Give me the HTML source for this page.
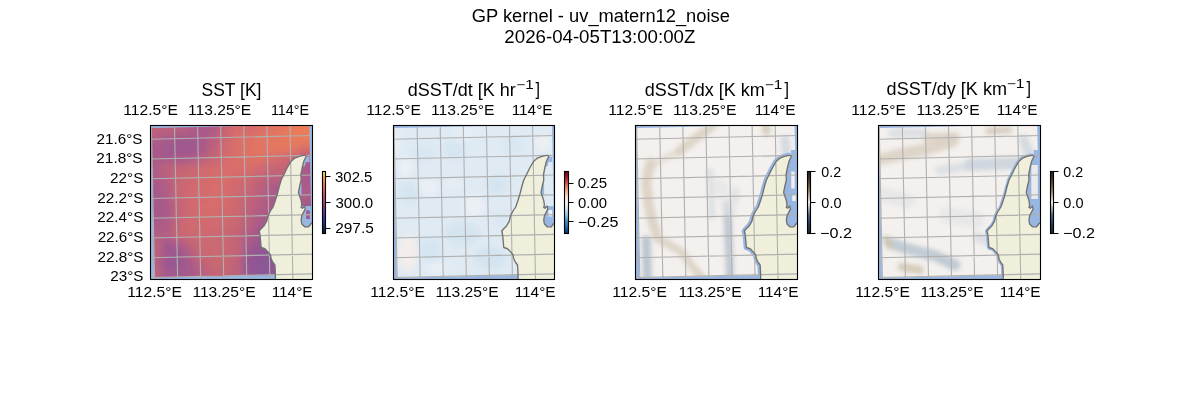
<!DOCTYPE html>
<html><head><meta charset="utf-8"><title>GP kernel - uv_matern12_noise</title>
<style>
html,body{margin:0;padding:0;background:#fff;width:1200px;height:400px;overflow:hidden}
svg{display:block;will-change:transform}
text{font-family:"Liberation Sans",sans-serif;fill:#000}
</style></head><body>
<svg width="1200" height="400" viewBox="0 0 1200 400">
<rect width="1200" height="400" fill="#fff"/>
<defs>
<filter id="blur35" x="-20%" y="-20%" width="140%" height="140%"><feGaussianBlur stdDeviation="3.5"/></filter>
<filter id="blur3" x="-50%" y="-50%" width="200%" height="200%"><feGaussianBlur stdDeviation="3"/></filter>
<filter id="blur2" x="-50%" y="-50%" width="200%" height="200%"><feGaussianBlur stdDeviation="2"/></filter>
</defs>
<clipPath id="clip0"><rect x="150.5" y="125.5" width="162" height="154"/></clipPath>
<clipPath id="data0"><polygon points="151,127.9 309.3,124.55 312.5,274.2 154.2,277.7"/></clipPath>
<g clip-path="url(#clip0)">
<rect x="150.5" y="125.5" width="162" height="154" fill="#97b6e1"/>
<g clip-path="url(#data0)"><g filter="url(#blur35)"><rect x="136" y="111" width="25.85" height="23.93" fill="#c0607a"/><rect x="161.55" y="111" width="11.85" height="23.93" fill="#bc5f7c"/><rect x="173.11" y="111" width="11.85" height="23.93" fill="#b85e80"/><rect x="184.66" y="111" width="11.85" height="23.93" fill="#b25c84"/><rect x="196.21" y="111" width="11.85" height="23.93" fill="#a8598a"/><rect x="207.76" y="111" width="11.85" height="23.93" fill="#b05b86"/><rect x="219.32" y="111" width="11.85" height="23.93" fill="#c8646f"/><rect x="230.87" y="111" width="11.85" height="23.93" fill="#d86c6a"/><rect x="242.42" y="111" width="11.85" height="23.93" fill="#d46a6c"/><rect x="253.98" y="111" width="11.85" height="23.93" fill="#da6e68"/><rect x="265.53" y="111" width="11.85" height="23.93" fill="#e07262"/><rect x="277.08" y="111" width="11.85" height="23.93" fill="#e47460"/><rect x="288.63" y="111" width="11.85" height="23.93" fill="#ea7a58"/><rect x="300.19" y="111" width="25.85" height="23.93" fill="#ec7c56"/><rect x="136" y="134.63" width="25.85" height="9.93" fill="#b05c84"/><rect x="161.55" y="134.63" width="11.85" height="9.93" fill="#a85a8a"/><rect x="173.11" y="134.63" width="11.85" height="9.93" fill="#a0588c"/><rect x="184.66" y="134.63" width="11.85" height="9.93" fill="#a0588c"/><rect x="196.21" y="134.63" width="11.85" height="9.93" fill="#a8598a"/><rect x="207.76" y="134.63" width="11.85" height="9.93" fill="#b85e80"/><rect x="219.32" y="134.63" width="11.85" height="9.93" fill="#cc6670"/><rect x="230.87" y="134.63" width="11.85" height="9.93" fill="#da6e68"/><rect x="242.42" y="134.63" width="11.85" height="9.93" fill="#de7064"/><rect x="253.98" y="134.63" width="11.85" height="9.93" fill="#e27462"/><rect x="265.53" y="134.63" width="11.85" height="9.93" fill="#e47660"/><rect x="277.08" y="134.63" width="11.85" height="9.93" fill="#e87858"/><rect x="288.63" y="134.63" width="11.85" height="9.93" fill="#ea7a58"/><rect x="300.19" y="134.63" width="25.85" height="9.93" fill="#ea7a58"/><rect x="136" y="144.25" width="25.85" height="9.93" fill="#a8598a"/><rect x="161.55" y="144.25" width="11.85" height="9.93" fill="#a0588c"/><rect x="173.11" y="144.25" width="11.85" height="9.93" fill="#9c578e"/><rect x="184.66" y="144.25" width="11.85" height="9.93" fill="#9e578c"/><rect x="196.21" y="144.25" width="11.85" height="9.93" fill="#a8598a"/><rect x="207.76" y="144.25" width="11.85" height="9.93" fill="#c06278"/><rect x="219.32" y="144.25" width="11.85" height="9.93" fill="#d06870"/><rect x="230.87" y="144.25" width="11.85" height="9.93" fill="#dc6e66"/><rect x="242.42" y="144.25" width="11.85" height="9.93" fill="#e07262"/><rect x="253.98" y="144.25" width="11.85" height="9.93" fill="#e27462"/><rect x="265.53" y="144.25" width="11.85" height="9.93" fill="#e47660"/><rect x="277.08" y="144.25" width="11.85" height="9.93" fill="#e67660"/><rect x="288.63" y="144.25" width="11.85" height="9.93" fill="#e47462"/><rect x="300.19" y="144.25" width="25.85" height="9.93" fill="#d86c6a"/><rect x="136" y="153.88" width="25.85" height="9.93" fill="#ac5a88"/><rect x="161.55" y="153.88" width="11.85" height="9.93" fill="#a8598a"/><rect x="173.11" y="153.88" width="11.85" height="9.93" fill="#a8598a"/><rect x="184.66" y="153.88" width="11.85" height="9.93" fill="#ac5a88"/><rect x="196.21" y="153.88" width="11.85" height="9.93" fill="#b85e80"/><rect x="207.76" y="153.88" width="11.85" height="9.93" fill="#c86672"/><rect x="219.32" y="153.88" width="11.85" height="9.93" fill="#d46a6c"/><rect x="230.87" y="153.88" width="11.85" height="9.93" fill="#da6e68"/><rect x="242.42" y="153.88" width="11.85" height="9.93" fill="#dc7066"/><rect x="253.98" y="153.88" width="11.85" height="9.93" fill="#e07262"/><rect x="265.53" y="153.88" width="11.85" height="9.93" fill="#d86c6a"/><rect x="277.08" y="153.88" width="11.85" height="9.93" fill="#d06870"/><rect x="288.63" y="153.88" width="11.85" height="9.93" fill="#c86672"/><rect x="300.19" y="153.88" width="25.85" height="9.93" fill="#b05c84"/><rect x="136" y="163.51" width="25.85" height="9.93" fill="#b05c86"/><rect x="161.55" y="163.51" width="11.85" height="9.93" fill="#c06278"/><rect x="173.11" y="163.51" width="11.85" height="9.93" fill="#c46476"/><rect x="184.66" y="163.51" width="11.85" height="9.93" fill="#c86672"/><rect x="196.21" y="163.51" width="11.85" height="9.93" fill="#d06a6e"/><rect x="207.76" y="163.51" width="11.85" height="9.93" fill="#d46a6c"/><rect x="219.32" y="163.51" width="11.85" height="9.93" fill="#d86c6a"/><rect x="230.87" y="163.51" width="11.85" height="9.93" fill="#d86c6a"/><rect x="242.42" y="163.51" width="11.85" height="9.93" fill="#da6e68"/><rect x="253.98" y="163.51" width="11.85" height="9.93" fill="#d06870"/><rect x="265.53" y="163.51" width="11.85" height="9.93" fill="#c86672"/><rect x="277.08" y="163.51" width="11.85" height="9.93" fill="#c46476"/><rect x="288.63" y="163.51" width="11.85" height="9.93" fill="#bc6079"/><rect x="300.19" y="163.51" width="25.85" height="9.93" fill="#a8598a"/><rect x="136" y="173.14" width="25.85" height="9.93" fill="#b05c86"/><rect x="161.55" y="173.14" width="11.85" height="9.93" fill="#b85e80"/><rect x="173.11" y="173.14" width="11.85" height="9.93" fill="#c86672"/><rect x="184.66" y="173.14" width="11.85" height="9.93" fill="#cc6870"/><rect x="196.21" y="173.14" width="11.85" height="9.93" fill="#d26a6c"/><rect x="207.76" y="173.14" width="11.85" height="9.93" fill="#d66c6a"/><rect x="219.32" y="173.14" width="11.85" height="9.93" fill="#d86c6a"/><rect x="230.87" y="173.14" width="11.85" height="9.93" fill="#d46a6c"/><rect x="242.42" y="173.14" width="11.85" height="9.93" fill="#d06870"/><rect x="253.98" y="173.14" width="11.85" height="9.93" fill="#c46476"/><rect x="265.53" y="173.14" width="11.85" height="9.93" fill="#bc6079"/><rect x="277.08" y="173.14" width="11.85" height="9.93" fill="#b85e80"/><rect x="288.63" y="173.14" width="11.85" height="9.93" fill="#b45d82"/><rect x="300.19" y="173.14" width="25.85" height="9.93" fill="#a8598a"/><rect x="136" y="182.76" width="25.85" height="9.93" fill="#a8598a"/><rect x="161.55" y="182.76" width="11.85" height="9.93" fill="#b45d82"/><rect x="173.11" y="182.76" width="11.85" height="9.93" fill="#c86672"/><rect x="184.66" y="182.76" width="11.85" height="9.93" fill="#d06870"/><rect x="196.21" y="182.76" width="11.85" height="9.93" fill="#d46a6c"/><rect x="207.76" y="182.76" width="11.85" height="9.93" fill="#d86c6a"/><rect x="219.32" y="182.76" width="11.85" height="9.93" fill="#d86c6a"/><rect x="230.87" y="182.76" width="11.85" height="9.93" fill="#d06870"/><rect x="242.42" y="182.76" width="11.85" height="9.93" fill="#c86672"/><rect x="253.98" y="182.76" width="11.85" height="9.93" fill="#bc6079"/><rect x="265.53" y="182.76" width="11.85" height="9.93" fill="#ac5a88"/><rect x="277.08" y="182.76" width="11.85" height="9.93" fill="#a8598a"/><rect x="288.63" y="182.76" width="11.85" height="9.93" fill="#ac5a88"/><rect x="300.19" y="182.76" width="25.85" height="9.93" fill="#ac5a88"/><rect x="136" y="192.39" width="25.85" height="9.93" fill="#a4588c"/><rect x="161.55" y="192.39" width="11.85" height="9.93" fill="#b05c84"/><rect x="173.11" y="192.39" width="11.85" height="9.93" fill="#c86672"/><rect x="184.66" y="192.39" width="11.85" height="9.93" fill="#d06870"/><rect x="196.21" y="192.39" width="11.85" height="9.93" fill="#d46a6c"/><rect x="207.76" y="192.39" width="11.85" height="9.93" fill="#d66c6a"/><rect x="219.32" y="192.39" width="11.85" height="9.93" fill="#d86c6a"/><rect x="230.87" y="192.39" width="11.85" height="9.93" fill="#cc6870"/><rect x="242.42" y="192.39" width="11.85" height="9.93" fill="#c46476"/><rect x="253.98" y="192.39" width="11.85" height="9.93" fill="#b85e80"/><rect x="265.53" y="192.39" width="11.85" height="9.93" fill="#ac5a88"/><rect x="277.08" y="192.39" width="11.85" height="9.93" fill="#a8598a"/><rect x="288.63" y="192.39" width="11.85" height="9.93" fill="#b05c84"/><rect x="300.19" y="192.39" width="25.85" height="9.93" fill="#b05c84"/><rect x="136" y="202.02" width="25.85" height="9.93" fill="#a4588c"/><rect x="161.55" y="202.02" width="11.85" height="9.93" fill="#ac5a88"/><rect x="173.11" y="202.02" width="11.85" height="9.93" fill="#c46476"/><rect x="184.66" y="202.02" width="11.85" height="9.93" fill="#d06870"/><rect x="196.21" y="202.02" width="11.85" height="9.93" fill="#d86c6a"/><rect x="207.76" y="202.02" width="11.85" height="9.93" fill="#d86c6a"/><rect x="219.32" y="202.02" width="11.85" height="9.93" fill="#d46a6c"/><rect x="230.87" y="202.02" width="11.85" height="9.93" fill="#cc6870"/><rect x="242.42" y="202.02" width="11.85" height="9.93" fill="#c06278"/><rect x="253.98" y="202.02" width="11.85" height="9.93" fill="#b45d82"/><rect x="265.53" y="202.02" width="11.85" height="9.93" fill="#ac5a88"/><rect x="277.08" y="202.02" width="11.85" height="9.93" fill="#a4588c"/><rect x="288.63" y="202.02" width="11.85" height="9.93" fill="#a0588c"/><rect x="300.19" y="202.02" width="25.85" height="9.93" fill="#a0588c"/><rect x="136" y="211.65" width="25.85" height="9.93" fill="#a8598a"/><rect x="161.55" y="211.65" width="11.85" height="9.93" fill="#ac5a88"/><rect x="173.11" y="211.65" width="11.85" height="9.93" fill="#c46476"/><rect x="184.66" y="211.65" width="11.85" height="9.93" fill="#d06870"/><rect x="196.21" y="211.65" width="11.85" height="9.93" fill="#d46a6c"/><rect x="207.76" y="211.65" width="11.85" height="9.93" fill="#d46a6c"/><rect x="219.32" y="211.65" width="11.85" height="9.93" fill="#d06870"/><rect x="230.87" y="211.65" width="11.85" height="9.93" fill="#cc6870"/><rect x="242.42" y="211.65" width="11.85" height="9.93" fill="#bc6079"/><rect x="253.98" y="211.65" width="11.85" height="9.93" fill="#b05c84"/><rect x="265.53" y="211.65" width="11.85" height="9.93" fill="#a8598a"/><rect x="277.08" y="211.65" width="11.85" height="9.93" fill="#a0588c"/><rect x="288.63" y="211.65" width="11.85" height="9.93" fill="#a0588c"/><rect x="300.19" y="211.65" width="25.85" height="9.93" fill="#a0588c"/><rect x="136" y="221.27" width="25.85" height="9.93" fill="#ac5a88"/><rect x="161.55" y="221.27" width="11.85" height="9.93" fill="#b05c84"/><rect x="173.11" y="221.27" width="11.85" height="9.93" fill="#c86672"/><rect x="184.66" y="221.27" width="11.85" height="9.93" fill="#d06870"/><rect x="196.21" y="221.27" width="11.85" height="9.93" fill="#d26a6e"/><rect x="207.76" y="221.27" width="11.85" height="9.93" fill="#d06870"/><rect x="219.32" y="221.27" width="11.85" height="9.93" fill="#cc6870"/><rect x="230.87" y="221.27" width="11.85" height="9.93" fill="#c86672"/><rect x="242.42" y="221.27" width="11.85" height="9.93" fill="#b85e80"/><rect x="253.98" y="221.27" width="11.85" height="9.93" fill="#a8598a"/><rect x="265.53" y="221.27" width="11.85" height="9.93" fill="#a0588c"/><rect x="277.08" y="221.27" width="11.85" height="9.93" fill="#a0588c"/><rect x="288.63" y="221.27" width="11.85" height="9.93" fill="#a0588c"/><rect x="300.19" y="221.27" width="25.85" height="9.93" fill="#a0588c"/><rect x="136" y="230.9" width="25.85" height="9.93" fill="#b45d82"/><rect x="161.55" y="230.9" width="11.85" height="9.93" fill="#b45d82"/><rect x="173.11" y="230.9" width="11.85" height="9.93" fill="#c86672"/><rect x="184.66" y="230.9" width="11.85" height="9.93" fill="#cc6870"/><rect x="196.21" y="230.9" width="11.85" height="9.93" fill="#d06870"/><rect x="207.76" y="230.9" width="11.85" height="9.93" fill="#cc6870"/><rect x="219.32" y="230.9" width="11.85" height="9.93" fill="#c86672"/><rect x="230.87" y="230.9" width="11.85" height="9.93" fill="#c46476"/><rect x="242.42" y="230.9" width="11.85" height="9.93" fill="#b05c84"/><rect x="253.98" y="230.9" width="11.85" height="9.93" fill="#a0588c"/><rect x="265.53" y="230.9" width="11.85" height="9.93" fill="#9c578e"/><rect x="277.08" y="230.9" width="11.85" height="9.93" fill="#9c578e"/><rect x="288.63" y="230.9" width="11.85" height="9.93" fill="#9c578e"/><rect x="300.19" y="230.9" width="25.85" height="9.93" fill="#9c578e"/><rect x="136" y="240.53" width="25.85" height="9.93" fill="#c06278"/><rect x="161.55" y="240.53" width="11.85" height="9.93" fill="#9e578c"/><rect x="173.11" y="240.53" width="11.85" height="9.93" fill="#a8598a"/><rect x="184.66" y="240.53" width="11.85" height="9.93" fill="#c06278"/><rect x="196.21" y="240.53" width="11.85" height="9.93" fill="#cc6870"/><rect x="207.76" y="240.53" width="11.85" height="9.93" fill="#cc6870"/><rect x="219.32" y="240.53" width="11.85" height="9.93" fill="#c86672"/><rect x="230.87" y="240.53" width="11.85" height="9.93" fill="#c46476"/><rect x="242.42" y="240.53" width="11.85" height="9.93" fill="#a8598a"/><rect x="253.98" y="240.53" width="11.85" height="9.93" fill="#98568f"/><rect x="265.53" y="240.53" width="11.85" height="9.93" fill="#94558f"/><rect x="277.08" y="240.53" width="11.85" height="9.93" fill="#94558f"/><rect x="288.63" y="240.53" width="11.85" height="9.93" fill="#94558f"/><rect x="300.19" y="240.53" width="25.85" height="9.93" fill="#94558f"/><rect x="136" y="250.16" width="25.85" height="9.93" fill="#bc6079"/><rect x="161.55" y="250.16" width="11.85" height="9.93" fill="#a0588c"/><rect x="173.11" y="250.16" width="11.85" height="9.93" fill="#985690"/><rect x="184.66" y="250.16" width="11.85" height="9.93" fill="#b45d82"/><rect x="196.21" y="250.16" width="11.85" height="9.93" fill="#c86672"/><rect x="207.76" y="250.16" width="11.85" height="9.93" fill="#cc6870"/><rect x="219.32" y="250.16" width="11.85" height="9.93" fill="#c86672"/><rect x="230.87" y="250.16" width="11.85" height="9.93" fill="#c46476"/><rect x="242.42" y="250.16" width="11.85" height="9.93" fill="#9a5790"/><rect x="253.98" y="250.16" width="11.85" height="9.93" fill="#8e5494"/><rect x="265.53" y="250.16" width="11.85" height="9.93" fill="#8e5494"/><rect x="277.08" y="250.16" width="11.85" height="9.93" fill="#8e5494"/><rect x="288.63" y="250.16" width="11.85" height="9.93" fill="#8e5494"/><rect x="300.19" y="250.16" width="25.85" height="9.93" fill="#8e5494"/><rect x="136" y="259.78" width="25.85" height="9.93" fill="#b85e80"/><rect x="161.55" y="259.78" width="11.85" height="9.93" fill="#9a5790"/><rect x="173.11" y="259.78" width="11.85" height="9.93" fill="#9a5790"/><rect x="184.66" y="259.78" width="11.85" height="9.93" fill="#a8598a"/><rect x="196.21" y="259.78" width="11.85" height="9.93" fill="#c06278"/><rect x="207.76" y="259.78" width="11.85" height="9.93" fill="#c86672"/><rect x="219.32" y="259.78" width="11.85" height="9.93" fill="#c86672"/><rect x="230.87" y="259.78" width="11.85" height="9.93" fill="#c06278"/><rect x="242.42" y="259.78" width="11.85" height="9.93" fill="#945592"/><rect x="253.98" y="259.78" width="11.85" height="9.93" fill="#8c5496"/><rect x="265.53" y="259.78" width="11.85" height="9.93" fill="#8c5496"/><rect x="277.08" y="259.78" width="11.85" height="9.93" fill="#8c5496"/><rect x="288.63" y="259.78" width="11.85" height="9.93" fill="#8c5496"/><rect x="300.19" y="259.78" width="25.85" height="9.93" fill="#8c5496"/><rect x="136" y="269.41" width="25.85" height="23.93" fill="#c06278"/><rect x="161.55" y="269.41" width="11.85" height="23.93" fill="#a4588c"/><rect x="173.11" y="269.41" width="11.85" height="23.93" fill="#a0588c"/><rect x="184.66" y="269.41" width="11.85" height="23.93" fill="#a8598a"/><rect x="196.21" y="269.41" width="11.85" height="23.93" fill="#b85e80"/><rect x="207.76" y="269.41" width="11.85" height="23.93" fill="#c46476"/><rect x="219.32" y="269.41" width="11.85" height="23.93" fill="#c46476"/><rect x="230.87" y="269.41" width="11.85" height="23.93" fill="#bc6079"/><rect x="242.42" y="269.41" width="11.85" height="23.93" fill="#985690"/><rect x="253.98" y="269.41" width="11.85" height="23.93" fill="#8c5496"/><rect x="265.53" y="269.41" width="11.85" height="23.93" fill="#905594"/><rect x="277.08" y="269.41" width="11.85" height="23.93" fill="#905594"/><rect x="288.63" y="269.41" width="11.85" height="23.93" fill="#905594"/><rect x="300.19" y="269.41" width="25.85" height="23.93" fill="#905594"/></g></g>
<polygon points="306.1,156.5 309.5,156.5 309.5,162 306,162 305,166 302.4,167 303.9,161" fill="#97b6e1"/>
<polygon points="299,183 301.5,183 301.5,195 299,195" fill="#97b6e1"/>
<polygon points="300,206 313,206 313,226 300,226" fill="#97b6e1"/>
<rect x="306.2" y="210.5" width="3.6" height="8.5" fill="#a0588c"/>
<polygon points="305.6,155.4 302.4,155.6 298.5,156.6 294.9,158.1 291.15,161.25 289.2,164.3 287.4,167.5 284.3,173.75 281.15,180 279.3,186.25 277.4,193.75 275.5,200 273.1,207 270.1,211.5 267.9,216 266.7,221.2 264.1,225.7 261.1,228.7 259.2,231 260.1,235.5 260.5,240 261.15,247.5 264.9,248.75 268,251.9 270.5,255 271.15,258.75 273,262.5 274.9,265 275.3,271.25 275.5,281 320,281 320,222.5 312.5,222.5 310.8,224 308.7,226.8 304.6,226.8 301.8,224 301.15,219.9 301.8,215.8 303.9,211.6 305.3,208.9 304.6,206.1 302.5,208.2 301.15,207.5 301.8,204.8 301.15,200.6 299.8,196.5 298.4,192.4 299.8,185.5 301.15,180 300.9,174.5 302.4,167 303.9,161 306.1,156.5" fill="#efefdb"/>
<path d="M151.35 124L154.6 280M174.45 124L177.65 280M197.55 124L200.7 280M220.65 124L223.75 280M243.75 124L246.8 280M266.85 124L269.85 280M289.95 124L292.9 280M149 139.22L313 135.53M149 158.98L313 155.29M149 178.74L313 175.05M149 198.5L313 194.81M149 218.26L313 214.57M149 238.02L313 234.33M149 257.78L313 254.09M149 277.54L313 273.85" stroke="#b0b0b0" stroke-width="1.11" fill="none"/>
<polyline points="275.5,281 275.3,271.25 274.9,265 273,262.5 271.15,258.75 270.5,255 268,251.9 264.9,248.75 261.15,247.5 260.5,240 260.1,235.5 259.2,231 261.1,228.7 264.1,225.7 266.7,221.2 267.9,216 270.1,211.5 273.1,207 275.5,200 277.4,193.75 279.3,186.25 281.15,180 284.3,173.75 287.4,167.5 289.2,164.3 291.15,161.25 294.9,158.1 298.5,156.6 302.4,155.6 305.6,155.4" fill="none" stroke="#727272" stroke-width="1.35" stroke-linejoin="round"/>
<polyline points="305.6,155.4 306.1,156.5 303.9,161 302.4,167 300.9,174.5 301.15,180 299.8,185.5 298.4,192.4 299.8,196.5 301.15,200.6 301.8,204.8 301.15,207.5 302.5,208.2 304.6,206.1 305.3,208.9 303.9,211.6 301.8,215.8 301.15,219.9 301.8,224 304.6,226.8 308.7,226.8 310.8,224 312.5,222.5" fill="none" stroke="#727272" stroke-width="1.35" stroke-linejoin="round"/>
</g>
<rect x="150.5" y="125.5" width="162" height="154" fill="none" stroke="#000" stroke-width="1.11"/>
<linearGradient id="cg0" x1="0" y1="1" x2="0" y2="0"><stop offset="0" stop-color="#042333"/><stop offset="0.1" stop-color="#0f2f67"/><stop offset="0.2" stop-color="#2c3395"/><stop offset="0.3" stop-color="#5a3398"/><stop offset="0.4" stop-color="#7d3c8d"/><stop offset="0.5" stop-color="#a24685"/><stop offset="0.6" stop-color="#c5507a"/><stop offset="0.7" stop-color="#e4606a"/><stop offset="0.8" stop-color="#f67f53"/><stop offset="0.9" stop-color="#fba93d"/><stop offset="1" stop-color="#e8fa5b"/></linearGradient>
<rect x="322.5" y="171.5" width="3" height="62" fill="url(#cg0)" stroke="#000" stroke-width="1.11"/>
<path d="M325.5 176.5h5M325.5 202.5h5M325.5 228.5h5" stroke="#000" stroke-width="1.11"/>
<clipPath id="clip1"><rect x="393.5" y="125.5" width="161" height="154"/></clipPath>
<clipPath id="data1"><polygon points="393.61,127.9 551.91,124.55 555.11,274.2 396.81,277.7"/></clipPath>
<g clip-path="url(#clip1)">
<rect x="393.5" y="125.5" width="161" height="154" fill="#97b6e1"/>
<g clip-path="url(#data1)"><rect x="387.61" y="120" width="172" height="165" fill="#dfeaf3"/><g filter="url(#blur3)"><ellipse cx="405.61" cy="167" rx="7" ry="9" fill="#eef2f6" fill-opacity="0.9"/><ellipse cx="428.61" cy="187" rx="10" ry="8" fill="#ecf1f6" fill-opacity="0.9"/><ellipse cx="474.61" cy="206" rx="10" ry="12" fill="#edf1f5" fill-opacity="0.9"/><ellipse cx="453.61" cy="184" rx="11" ry="5" fill="#e9eff5" fill-opacity="0.8"/><ellipse cx="407.61" cy="253" rx="10" ry="18" fill="#f4eeeb" fill-opacity="0.95"/><ellipse cx="542.61" cy="143" rx="10" ry="10" fill="#eef0f3" fill-opacity="0.8"/><ellipse cx="467.61" cy="133" rx="14" ry="6" fill="#e9eff5" fill-opacity="0.8"/><ellipse cx="396.61" cy="143" rx="4" ry="14" fill="#edf1f5" fill-opacity="0.8"/><ellipse cx="437.61" cy="268" rx="10" ry="6" fill="#edf1f5" fill-opacity="0.8"/><ellipse cx="409.61" cy="193" rx="10" ry="11" fill="#d3e4f1" fill-opacity="0.9"/><ellipse cx="453.61" cy="150" rx="11" ry="9" fill="#d4e5f1" fill-opacity="0.9"/><ellipse cx="496.61" cy="185" rx="11" ry="9" fill="#d3e4f1" fill-opacity="0.9"/><ellipse cx="461.61" cy="234" rx="18" ry="12" fill="#d4e4f0" fill-opacity="0.9"/><ellipse cx="490.61" cy="258" rx="16" ry="11" fill="#d2e3f0" fill-opacity="0.9"/><ellipse cx="430.61" cy="250" rx="11" ry="12" fill="#d4e4f0" fill-opacity="0.85"/><ellipse cx="422.61" cy="153" rx="12" ry="8" fill="#d6e6f1" fill-opacity="0.8"/><ellipse cx="512.61" cy="145" rx="10" ry="8" fill="#d6e6f1" fill-opacity="0.8"/><ellipse cx="502.61" cy="220" rx="8" ry="8" fill="#d8e7f2" fill-opacity="0.8"/></g></g>
<polygon points="548.71,156.5 552.11,156.5 552.11,162 548.61,162 547.61,166 545.01,167 546.51,161" fill="#97b6e1"/>
<polygon points="541.61,183 544.11,183 544.11,195 541.61,195" fill="#97b6e1"/>
<polygon points="542.61,206 555.61,206 555.61,226 542.61,226" fill="#97b6e1"/>
<rect x="548.41" y="210" width="3.8" height="6.5" fill="#eef2f6"/>
<polygon points="548.21,155.4 545.01,155.6 541.11,156.6 537.51,158.1 533.76,161.25 531.81,164.3 530.01,167.5 526.91,173.75 523.76,180 521.91,186.25 520.01,193.75 518.11,200 515.71,207 512.71,211.5 510.51,216 509.31,221.2 506.71,225.7 503.71,228.7 501.81,231 502.71,235.5 503.11,240 503.76,247.5 507.51,248.75 510.61,251.9 513.11,255 513.76,258.75 515.61,262.5 517.51,265 517.91,271.25 518.11,281 562.61,281 562.61,222.5 555.11,222.5 553.41,224 551.31,226.8 547.21,226.8 544.41,224 543.76,219.9 544.41,215.8 546.51,211.6 547.91,208.9 547.21,206.1 545.11,208.2 543.76,207.5 544.41,204.8 543.76,200.6 542.41,196.5 541.01,192.4 542.41,185.5 543.76,180 543.51,174.5 545.01,167 546.51,161 548.71,156.5" fill="#efefdb"/>
<path d="M393.96 124L397.21 280M417.06 124L420.26 280M440.16 124L443.31 280M463.26 124L466.36 280M486.36 124L489.41 280M509.46 124L512.46 280M532.56 124L535.51 280M391.61 139.22L555.61 135.53M391.61 158.98L555.61 155.29M391.61 178.74L555.61 175.05M391.61 198.5L555.61 194.81M391.61 218.26L555.61 214.57M391.61 238.02L555.61 234.33M391.61 257.78L555.61 254.09M391.61 277.54L555.61 273.85" stroke="#b0b0b0" stroke-width="1.11" fill="none"/>
<polyline points="518.11,281 517.91,271.25 517.51,265 515.61,262.5 513.76,258.75 513.11,255 510.61,251.9 507.51,248.75 503.76,247.5 503.11,240 502.71,235.5 501.81,231 503.71,228.7 506.71,225.7 509.31,221.2 510.51,216 512.71,211.5 515.71,207 518.11,200 520.01,193.75 521.91,186.25 523.76,180 526.91,173.75 530.01,167.5 531.81,164.3 533.76,161.25 537.51,158.1 541.11,156.6 545.01,155.6 548.21,155.4" fill="none" stroke="#727272" stroke-width="1.35" stroke-linejoin="round"/>
<polyline points="548.21,155.4 548.71,156.5 546.51,161 545.01,167 543.51,174.5 543.76,180 542.41,185.5 541.01,192.4 542.41,196.5 543.76,200.6 544.41,204.8 543.76,207.5 545.11,208.2 547.21,206.1 547.91,208.9 546.51,211.6 544.41,215.8 543.76,219.9 544.41,224 547.21,226.8 551.31,226.8 553.41,224 555.11,222.5" fill="none" stroke="#727272" stroke-width="1.35" stroke-linejoin="round"/>
</g>
<rect x="393.5" y="125.5" width="161" height="154" fill="none" stroke="#000" stroke-width="1.11"/>
<linearGradient id="cg1" x1="0" y1="1" x2="0" y2="0"><stop offset="0" stop-color="#053061"/><stop offset="0.1" stop-color="#2166ac"/><stop offset="0.2" stop-color="#4393c3"/><stop offset="0.3" stop-color="#92c5de"/><stop offset="0.4" stop-color="#d1e5f0"/><stop offset="0.5" stop-color="#f7f7f7"/><stop offset="0.6" stop-color="#fddbc7"/><stop offset="0.7" stop-color="#f4a582"/><stop offset="0.8" stop-color="#d6604d"/><stop offset="0.9" stop-color="#b2182b"/><stop offset="1" stop-color="#67001f"/></linearGradient>
<rect x="564.5" y="171.5" width="4" height="62" fill="url(#cg1)" stroke="#000" stroke-width="1.11"/>
<path d="M568.5 183.5h5M568.5 202.5h5M568.5 221.5h5" stroke="#000" stroke-width="1.11"/>
<clipPath id="clip2"><rect x="635.5" y="125.5" width="162" height="154"/></clipPath>
<clipPath id="data2"><polygon points="636.22,127.9 794.52,124.55 797.72,274.2 639.42,277.7"/></clipPath>
<g clip-path="url(#clip2)">
<rect x="635.5" y="125.5" width="162" height="154" fill="#97b6e1"/>
<g clip-path="url(#data2)"><rect x="630.22" y="120" width="172" height="165" fill="#f3f0ee"/><g filter="url(#blur2)" opacity="0.9"><path d="M715.22 123L707.22 130L697.22 137L687.22 145L679.22 151" stroke="#d6cbba" stroke-opacity="0.85" stroke-width="9" stroke-linecap="round" stroke-linejoin="round" fill="none"/><path d="M679.22 152L665.22 158L653.22 165" stroke="#d6cbba" stroke-opacity="0.5" stroke-width="7" stroke-linecap="round" stroke-linejoin="round" fill="none"/><path d="M650.22 163L646.22 183L648.22 202L652.22 221L656.22 233" stroke="#d6cbba" stroke-opacity="0.85" stroke-width="10" stroke-linecap="round" stroke-linejoin="round" fill="none"/><path d="M766.22 125L766.22 131" stroke="#cbbfa9" stroke-opacity="0.8" stroke-width="8" stroke-linecap="round" stroke-linejoin="round" fill="none"/><path d="M657.22 239L670.22 245L681.22 252L691.22 265L701.22 277" stroke="#d6cbba" stroke-opacity="0.8" stroke-width="8" stroke-linecap="round" stroke-linejoin="round" fill="none"/><path d="M646.22 240L646.72 255L647.22 277" stroke="#aebdca" stroke-opacity="0.9" stroke-width="9" stroke-linecap="round" stroke-linejoin="round" fill="none"/><path d="M710.22 171L711.22 195L712.22 217" stroke="#c9d2db" stroke-opacity="0.6" stroke-width="6" stroke-linecap="round" stroke-linejoin="round" fill="none"/><path d="M727.22 205L728.22 233L729.22 255L730.22 280" stroke="#aebdca" stroke-opacity="0.85" stroke-width="8" stroke-linecap="round" stroke-linejoin="round" fill="none"/><path d="M735.22 191L735.22 201" stroke="#c9d2db" stroke-opacity="0.5" stroke-width="7" stroke-linecap="round" stroke-linejoin="round" fill="none"/><path d="M785.22 140L786.22 154" stroke="#c9d2db" stroke-opacity="0.8" stroke-width="9" stroke-linecap="round" stroke-linejoin="round" fill="none"/><path d="M720.22 185L730.22 210" stroke="#e2e3e6" stroke-opacity="0.6" stroke-width="14" stroke-linecap="round" stroke-linejoin="round" fill="none"/></g></g>
<polygon points="791.32,156.5 790.92,150 805.22,150 805.22,222.5 797.72,222.5 796.02,224 793.92,226.8 789.82,226.8 787.02,224 786.37,219.9 787.02,215.8 789.12,211.6 790.52,208.9 789.82,206.1 787.72,208.2 786.37,207.5 787.02,204.8 786.37,200.6 785.02,196.5 783.62,192.4 785.02,185.5 786.37,180 786.12,174.5 787.62,167 789.12,161" fill="#97b6e1"/>
<rect x="791.22" y="171.5" width="3.5" height="17" fill="#f1eeed"/>
<rect x="792.22" y="195" width="3.5" height="6" fill="#f1eeed"/>
<polyline points="760.72,281 760.52,271.25 760.12,265 758.22,262.5 756.37,258.75 755.72,255 753.22,251.9 750.12,248.75 746.37,247.5 745.72,240 745.32,235.5 744.42,231 746.32,228.7 749.32,225.7 751.92,221.2 753.12,216 755.32,211.5 758.32,207 760.72,200 762.62,193.75 764.52,186.25 766.37,180 769.52,173.75 772.62,167.5 774.42,164.3 776.37,161.25 780.12,158.1 783.72,156.6 787.62,155.6 790.82,155.4" fill="none" stroke="#97b6e1" stroke-width="5.5" stroke-linejoin="round"/>
<polygon points="790.82,155.4 787.62,155.6 783.72,156.6 780.12,158.1 776.37,161.25 774.42,164.3 772.62,167.5 769.52,173.75 766.37,180 764.52,186.25 762.62,193.75 760.72,200 758.32,207 755.32,211.5 753.12,216 751.92,221.2 749.32,225.7 746.32,228.7 744.42,231 745.32,235.5 745.72,240 746.37,247.5 750.12,248.75 753.22,251.9 755.72,255 756.37,258.75 758.22,262.5 760.12,265 760.52,271.25 760.72,281 805.22,281 805.22,222.5 797.72,222.5 796.02,224 793.92,226.8 789.82,226.8 787.02,224 786.37,219.9 787.02,215.8 789.12,211.6 790.52,208.9 789.82,206.1 787.72,208.2 786.37,207.5 787.02,204.8 786.37,200.6 785.02,196.5 783.62,192.4 785.02,185.5 786.37,180 786.12,174.5 787.62,167 789.12,161 791.32,156.5" fill="#efefdb"/>
<path d="M636.57 124L639.82 280M659.67 124L662.87 280M682.77 124L685.92 280M705.87 124L708.97 280M728.97 124L732.02 280M752.07 124L755.07 280M775.17 124L778.12 280M634.22 139.22L798.22 135.53M634.22 158.98L798.22 155.29M634.22 178.74L798.22 175.05M634.22 198.5L798.22 194.81M634.22 218.26L798.22 214.57M634.22 238.02L798.22 234.33M634.22 257.78L798.22 254.09M634.22 277.54L798.22 273.85" stroke="#b0b0b0" stroke-width="1.11" fill="none"/>
<polyline points="760.72,281 760.52,271.25 760.12,265 758.22,262.5 756.37,258.75 755.72,255 753.22,251.9 750.12,248.75 746.37,247.5 745.72,240 745.32,235.5 744.42,231 746.32,228.7 749.32,225.7 751.92,221.2 753.12,216 755.32,211.5 758.32,207 760.72,200 762.62,193.75 764.52,186.25 766.37,180 769.52,173.75 772.62,167.5 774.42,164.3 776.37,161.25 780.12,158.1 783.72,156.6 787.62,155.6 790.82,155.4" fill="none" stroke="#727272" stroke-width="1.35" stroke-linejoin="round"/>
<polyline points="790.82,155.4 791.32,156.5 789.12,161 787.62,167 786.12,174.5 786.37,180 785.02,185.5 783.62,192.4 785.02,196.5 786.37,200.6 787.02,204.8 786.37,207.5 787.72,208.2 789.82,206.1 790.52,208.9 789.12,211.6 787.02,215.8 786.37,219.9 787.02,224 789.82,226.8 793.92,226.8 796.02,224 797.72,222.5" fill="none" stroke="#727272" stroke-width="1.35" stroke-linejoin="round"/>
</g>
<rect x="635.5" y="125.5" width="162" height="154" fill="none" stroke="#000" stroke-width="1.11"/>
<linearGradient id="cg2" x1="0" y1="1" x2="0" y2="0"><stop offset="0" stop-color="#1a2a3e"/><stop offset="0.15" stop-color="#223f5d"/><stop offset="0.3" stop-color="#4d6d8d"/><stop offset="0.42" stop-color="#aebdcc"/><stop offset="0.5" stop-color="#f6f6f4"/><stop offset="0.58" stop-color="#cdc3aa"/><stop offset="0.7" stop-color="#8f7f5b"/><stop offset="0.85" stop-color="#4e422a"/><stop offset="1" stop-color="#2a2114"/></linearGradient>
<rect x="807.5" y="171.5" width="3" height="62" fill="url(#cg2)" stroke="#000" stroke-width="1.11"/>
<path d="M810.5 171.5h5M810.5 202.5h5M810.5 233.5h5" stroke="#000" stroke-width="1.11"/>
<clipPath id="clip3"><rect x="878.5" y="125.5" width="162" height="154"/></clipPath>
<clipPath id="data3"><polygon points="878.83,127.9 1037.13,124.55 1040.33,274.2 882.03,277.7"/></clipPath>
<g clip-path="url(#clip3)">
<rect x="878.5" y="125.5" width="162" height="154" fill="#97b6e1"/>
<g clip-path="url(#data3)"><rect x="872.83" y="120" width="172" height="165" fill="#f3f0ee"/><g filter="url(#blur2)" opacity="0.9"><path d="M892.83 133L923.83 133" stroke="#c9d2db" stroke-opacity="0.6" stroke-width="9" stroke-linecap="round" stroke-linejoin="round" fill="none"/><path d="M927.83 138L954.83 137" stroke="#d6cbba" stroke-opacity="0.75" stroke-width="10" stroke-linecap="round" stroke-linejoin="round" fill="none"/><path d="M881.83 159L902.83 154L927.83 149L952.83 141" stroke="#d6cbba" stroke-opacity="0.8" stroke-width="12" stroke-linecap="round" stroke-linejoin="round" fill="none"/><path d="M988.83 131L1008.83 130" stroke="#cbbfa9" stroke-opacity="0.75" stroke-width="7" stroke-linecap="round" stroke-linejoin="round" fill="none"/><path d="M939.83 170L969.83 166" stroke="#c9d2db" stroke-opacity="0.6" stroke-width="9" stroke-linecap="round" stroke-linejoin="round" fill="none"/><path d="M969.83 165L1017.83 163" stroke="#c9d2db" stroke-opacity="0.95" stroke-width="12" stroke-linecap="round" stroke-linejoin="round" fill="none"/><path d="M1023.83 140L1029.83 155" stroke="#c9d2db" stroke-opacity="0.8" stroke-width="10" stroke-linecap="round" stroke-linejoin="round" fill="none"/><path d="M883.83 195L907.83 201" stroke="#e2e3e6" stroke-opacity="0.8" stroke-width="14" stroke-linecap="round" stroke-linejoin="round" fill="none"/><path d="M947.83 215L975.83 220" stroke="#e2e3e6" stroke-opacity="0.7" stroke-width="16" stroke-linecap="round" stroke-linejoin="round" fill="none"/><path d="M889.83 243L907.83 249L935.83 256L954.83 265" stroke="#aebdca" stroke-opacity="0.8" stroke-width="11" stroke-linecap="round" stroke-linejoin="round" fill="none"/><path d="M885.83 239L889.83 246" stroke="#cbbfa9" stroke-opacity="0.85" stroke-width="7" stroke-linecap="round" stroke-linejoin="round" fill="none"/><path d="M901.83 267L919.83 270" stroke="#cbbfa9" stroke-opacity="0.85" stroke-width="8" stroke-linecap="round" stroke-linejoin="round" fill="none"/><path d="M977.83 237L991.83 243" stroke="#c9d2db" stroke-opacity="0.6" stroke-width="10" stroke-linecap="round" stroke-linejoin="round" fill="none"/></g></g>
<polygon points="1033.93,156.5 1033.53,150 1047.83,150 1047.83,222.5 1040.33,222.5 1038.63,224 1036.53,226.8 1032.43,226.8 1029.63,224 1028.98,219.9 1029.63,215.8 1031.73,211.6 1033.13,208.9 1032.43,206.1 1030.33,208.2 1028.98,207.5 1029.63,204.8 1028.98,200.6 1027.63,196.5 1026.23,192.4 1027.63,185.5 1028.98,180 1028.73,174.5 1030.23,167 1031.73,161" fill="#97b6e1"/>
<rect x="1031.33" y="165" width="6.5" height="34" fill="#ebe9e9"/>
<polyline points="1003.33,281 1003.13,271.25 1002.73,265 1000.83,262.5 998.98,258.75 998.33,255 995.83,251.9 992.73,248.75 988.98,247.5 988.33,240 987.93,235.5 987.03,231 988.93,228.7 991.93,225.7 994.53,221.2 995.73,216 997.93,211.5 1000.93,207 1003.33,200 1005.23,193.75 1007.13,186.25 1008.98,180 1012.13,173.75 1015.23,167.5 1017.03,164.3 1018.98,161.25 1022.73,158.1 1026.33,156.6 1030.23,155.6 1033.43,155.4" fill="none" stroke="#97b6e1" stroke-width="4" stroke-linejoin="round"/>
<polygon points="1033.43,155.4 1030.23,155.6 1026.33,156.6 1022.73,158.1 1018.98,161.25 1017.03,164.3 1015.23,167.5 1012.13,173.75 1008.98,180 1007.13,186.25 1005.23,193.75 1003.33,200 1000.93,207 997.93,211.5 995.73,216 994.53,221.2 991.93,225.7 988.93,228.7 987.03,231 987.93,235.5 988.33,240 988.98,247.5 992.73,248.75 995.83,251.9 998.33,255 998.98,258.75 1000.83,262.5 1002.73,265 1003.13,271.25 1003.33,281 1047.83,281 1047.83,222.5 1040.33,222.5 1038.63,224 1036.53,226.8 1032.43,226.8 1029.63,224 1028.98,219.9 1029.63,215.8 1031.73,211.6 1033.13,208.9 1032.43,206.1 1030.33,208.2 1028.98,207.5 1029.63,204.8 1028.98,200.6 1027.63,196.5 1026.23,192.4 1027.63,185.5 1028.98,180 1028.73,174.5 1030.23,167 1031.73,161 1033.93,156.5" fill="#efefdb"/>
<path d="M879.18 124L882.43 280M902.28 124L905.48 280M925.38 124L928.53 280M948.48 124L951.58 280M971.58 124L974.63 280M994.68 124L997.68 280M1017.78 124L1020.73 280M876.83 139.22L1040.83 135.53M876.83 158.98L1040.83 155.29M876.83 178.74L1040.83 175.05M876.83 198.5L1040.83 194.81M876.83 218.26L1040.83 214.57M876.83 238.02L1040.83 234.33M876.83 257.78L1040.83 254.09M876.83 277.54L1040.83 273.85" stroke="#b0b0b0" stroke-width="1.11" fill="none"/>
<polyline points="1003.33,281 1003.13,271.25 1002.73,265 1000.83,262.5 998.98,258.75 998.33,255 995.83,251.9 992.73,248.75 988.98,247.5 988.33,240 987.93,235.5 987.03,231 988.93,228.7 991.93,225.7 994.53,221.2 995.73,216 997.93,211.5 1000.93,207 1003.33,200 1005.23,193.75 1007.13,186.25 1008.98,180 1012.13,173.75 1015.23,167.5 1017.03,164.3 1018.98,161.25 1022.73,158.1 1026.33,156.6 1030.23,155.6 1033.43,155.4" fill="none" stroke="#727272" stroke-width="1.35" stroke-linejoin="round"/>
<polyline points="1033.43,155.4 1033.93,156.5 1031.73,161 1030.23,167 1028.73,174.5 1028.98,180 1027.63,185.5 1026.23,192.4 1027.63,196.5 1028.98,200.6 1029.63,204.8 1028.98,207.5 1030.33,208.2 1032.43,206.1 1033.13,208.9 1031.73,211.6 1029.63,215.8 1028.98,219.9 1029.63,224 1032.43,226.8 1036.53,226.8 1038.63,224 1040.33,222.5" fill="none" stroke="#727272" stroke-width="1.35" stroke-linejoin="round"/>
</g>
<rect x="878.5" y="125.5" width="162" height="154" fill="none" stroke="#000" stroke-width="1.11"/>
<linearGradient id="cg3" x1="0" y1="1" x2="0" y2="0"><stop offset="0" stop-color="#1a2a3e"/><stop offset="0.15" stop-color="#223f5d"/><stop offset="0.3" stop-color="#4d6d8d"/><stop offset="0.42" stop-color="#aebdcc"/><stop offset="0.5" stop-color="#f6f6f4"/><stop offset="0.58" stop-color="#cdc3aa"/><stop offset="0.7" stop-color="#8f7f5b"/><stop offset="0.85" stop-color="#4e422a"/><stop offset="1" stop-color="#2a2114"/></linearGradient>
<rect x="1050.5" y="171.5" width="3" height="62" fill="url(#cg3)" stroke="#000" stroke-width="1.11"/>
<path d="M1053.5 171.5h5M1053.5 202.5h5M1053.5 233.5h5" stroke="#000" stroke-width="1.11"/><text x="600.8" y="21.51" font-size="17.6" text-anchor="middle" textLength="258.19" lengthAdjust="spacingAndGlyphs">GP kernel - uv_matern12_noise</text>
<text x="599.89" y="42.79" font-size="17.6" text-anchor="middle" textLength="191" lengthAdjust="spacingAndGlyphs">2026-04-05T13:00:00Z</text>
<text x="231.51" y="95.79" font-size="17.6" text-anchor="middle" textLength="59.97" lengthAdjust="spacingAndGlyphs">SST [K]</text>
<text x="407.73" y="95.56" font-size="17.6" textLength="108.1" lengthAdjust="spacingAndGlyphs">dSST/dt [K hr</text>
<text x="516.36" y="88.73" font-size="12.2" textLength="17.4" lengthAdjust="spacingAndGlyphs">−1</text>
<text x="535.59" y="94.86" font-size="17.6" textLength="4.5" lengthAdjust="spacingAndGlyphs">]</text>
<text x="644.8" y="95.78" font-size="17.6" textLength="120.05" lengthAdjust="spacingAndGlyphs">dSST/dx [K km</text>
<text x="764.78" y="88.75" font-size="12.2" textLength="17.75" lengthAdjust="spacingAndGlyphs">−1</text>
<text x="784.59" y="94.86" font-size="17.6" textLength="4.5" lengthAdjust="spacingAndGlyphs">]</text>
<text x="886.64" y="94.63" font-size="17.6" textLength="120.34" lengthAdjust="spacingAndGlyphs">dSST/dy [K km</text>
<text x="1006.78" y="87.75" font-size="12.2" textLength="17.75" lengthAdjust="spacingAndGlyphs">−1</text>
<text x="1026.59" y="93.86" font-size="17.6" textLength="4.5" lengthAdjust="spacingAndGlyphs">]</text>
<text x="150.56" y="114.6" font-size="14.14" text-anchor="middle" textLength="54.49" lengthAdjust="spacingAndGlyphs">112.5°E</text>
<text x="219.66" y="114.78" font-size="14.14" text-anchor="middle" textLength="63.15" lengthAdjust="spacingAndGlyphs">113.25°E</text>
<text x="289.97" y="115.16" font-size="14.14" text-anchor="middle" textLength="38.07" lengthAdjust="spacingAndGlyphs">114°E</text>
<text x="154.56" y="296.6" font-size="14.14" text-anchor="middle" textLength="54.49" lengthAdjust="spacingAndGlyphs">112.5°E</text>
<text x="224.03" y="296.59" font-size="14.14" text-anchor="middle" textLength="63.31" lengthAdjust="spacingAndGlyphs">113.25°E</text>
<text x="292.13" y="296.88" font-size="14.14" text-anchor="middle" textLength="40.95" lengthAdjust="spacingAndGlyphs">114°E</text>
<text x="393.56" y="114.6" font-size="14.14" text-anchor="middle" textLength="54.49" lengthAdjust="spacingAndGlyphs">112.5°E</text>
<text x="462.69" y="114.97" font-size="14.14" text-anchor="middle" textLength="63.55" lengthAdjust="spacingAndGlyphs">113.25°E</text>
<text x="532.13" y="114.88" font-size="14.14" text-anchor="middle" textLength="40.95" lengthAdjust="spacingAndGlyphs">114°E</text>
<text x="397.56" y="296.6" font-size="14.14" text-anchor="middle" textLength="54.49" lengthAdjust="spacingAndGlyphs">112.5°E</text>
<text x="467.03" y="296.59" font-size="14.14" text-anchor="middle" textLength="63.31" lengthAdjust="spacingAndGlyphs">113.25°E</text>
<text x="535.13" y="296.88" font-size="14.14" text-anchor="middle" textLength="40.95" lengthAdjust="spacingAndGlyphs">114°E</text>
<text x="635.56" y="114.6" font-size="14.14" text-anchor="middle" textLength="54.49" lengthAdjust="spacingAndGlyphs">112.5°E</text>
<text x="704.71" y="114.98" font-size="14.14" text-anchor="middle" textLength="63.62" lengthAdjust="spacingAndGlyphs">113.25°E</text>
<text x="775.13" y="114.88" font-size="14.14" text-anchor="middle" textLength="40.95" lengthAdjust="spacingAndGlyphs">114°E</text>
<text x="639.56" y="296.6" font-size="14.14" text-anchor="middle" textLength="54.49" lengthAdjust="spacingAndGlyphs">112.5°E</text>
<text x="710.03" y="296.59" font-size="14.14" text-anchor="middle" textLength="63.31" lengthAdjust="spacingAndGlyphs">113.25°E</text>
<text x="778.13" y="296.88" font-size="14.14" text-anchor="middle" textLength="40.95" lengthAdjust="spacingAndGlyphs">114°E</text>
<text x="878.56" y="114.6" font-size="14.14" text-anchor="middle" textLength="54.49" lengthAdjust="spacingAndGlyphs">112.5°E</text>
<text x="948.03" y="114.59" font-size="14.14" text-anchor="middle" textLength="63.31" lengthAdjust="spacingAndGlyphs">113.25°E</text>
<text x="1017.13" y="114.88" font-size="14.14" text-anchor="middle" textLength="40.95" lengthAdjust="spacingAndGlyphs">114°E</text>
<text x="882.56" y="296.6" font-size="14.14" text-anchor="middle" textLength="54.49" lengthAdjust="spacingAndGlyphs">112.5°E</text>
<text x="952.03" y="296.59" font-size="14.14" text-anchor="middle" textLength="63.31" lengthAdjust="spacingAndGlyphs">113.25°E</text>
<text x="1020.13" y="296.88" font-size="14.14" text-anchor="middle" textLength="40.95" lengthAdjust="spacingAndGlyphs">114°E</text>
<text x="142.5" y="143.69" font-size="14.14" text-anchor="end" textLength="45.94" lengthAdjust="spacingAndGlyphs">21.6°S</text>
<text x="142.62" y="162.6" font-size="14.14" text-anchor="end" textLength="46.31" lengthAdjust="spacingAndGlyphs">21.8°S</text>
<text x="143.31" y="182.75" font-size="14.14" text-anchor="end" textLength="33.18" lengthAdjust="spacingAndGlyphs">22°S</text>
<text x="143.48" y="202.94" font-size="14.14" text-anchor="end" textLength="46.23" lengthAdjust="spacingAndGlyphs">22.2°S</text>
<text x="143.4" y="221.55" font-size="14.14" text-anchor="end" textLength="46.25" lengthAdjust="spacingAndGlyphs">22.4°S</text>
<text x="143.47" y="241.9" font-size="14.14" text-anchor="end" textLength="45.8" lengthAdjust="spacingAndGlyphs">22.6°S</text>
<text x="143.58" y="261.82" font-size="14.14" text-anchor="end" textLength="46.12" lengthAdjust="spacingAndGlyphs">22.8°S</text>
<text x="143.51" y="280.52" font-size="14.14" text-anchor="end" textLength="33.29" lengthAdjust="spacingAndGlyphs">23°S</text>
<text x="335.03" y="181.84" font-size="14.14" textLength="37.44" lengthAdjust="spacingAndGlyphs">302.5</text>
<text x="335.41" y="208.31" font-size="14.14" textLength="37.74" lengthAdjust="spacingAndGlyphs">300.0</text>
<text x="335.17" y="232.66" font-size="14.14" textLength="38.59" lengthAdjust="spacingAndGlyphs">297.5</text>
<text x="577.75" y="188.3" font-size="14.14" textLength="29.27" lengthAdjust="spacingAndGlyphs">0.25</text>
<text x="578.08" y="208.23" font-size="14.14" textLength="28.97" lengthAdjust="spacingAndGlyphs">0.00</text>
<text x="577.67" y="227.42" font-size="14.14" textLength="40.75" lengthAdjust="spacingAndGlyphs">−0.25</text>
<text x="821.3" y="177.34" font-size="14.14" textLength="19.81" lengthAdjust="spacingAndGlyphs">0.2</text>
<text x="821.36" y="208.24" font-size="14.14" textLength="20.19" lengthAdjust="spacingAndGlyphs">0.0</text>
<text x="819.97" y="238.48" font-size="14.14" textLength="31.92" lengthAdjust="spacingAndGlyphs">−0.2</text>
<text x="1063.3" y="177.34" font-size="14.14" textLength="19.81" lengthAdjust="spacingAndGlyphs">0.2</text>
<text x="1063.36" y="208.24" font-size="14.14" textLength="20.19" lengthAdjust="spacingAndGlyphs">0.0</text>
<text x="1062.97" y="238.48" font-size="14.14" textLength="31.92" lengthAdjust="spacingAndGlyphs">−0.2</text>
</svg>
</body></html>
